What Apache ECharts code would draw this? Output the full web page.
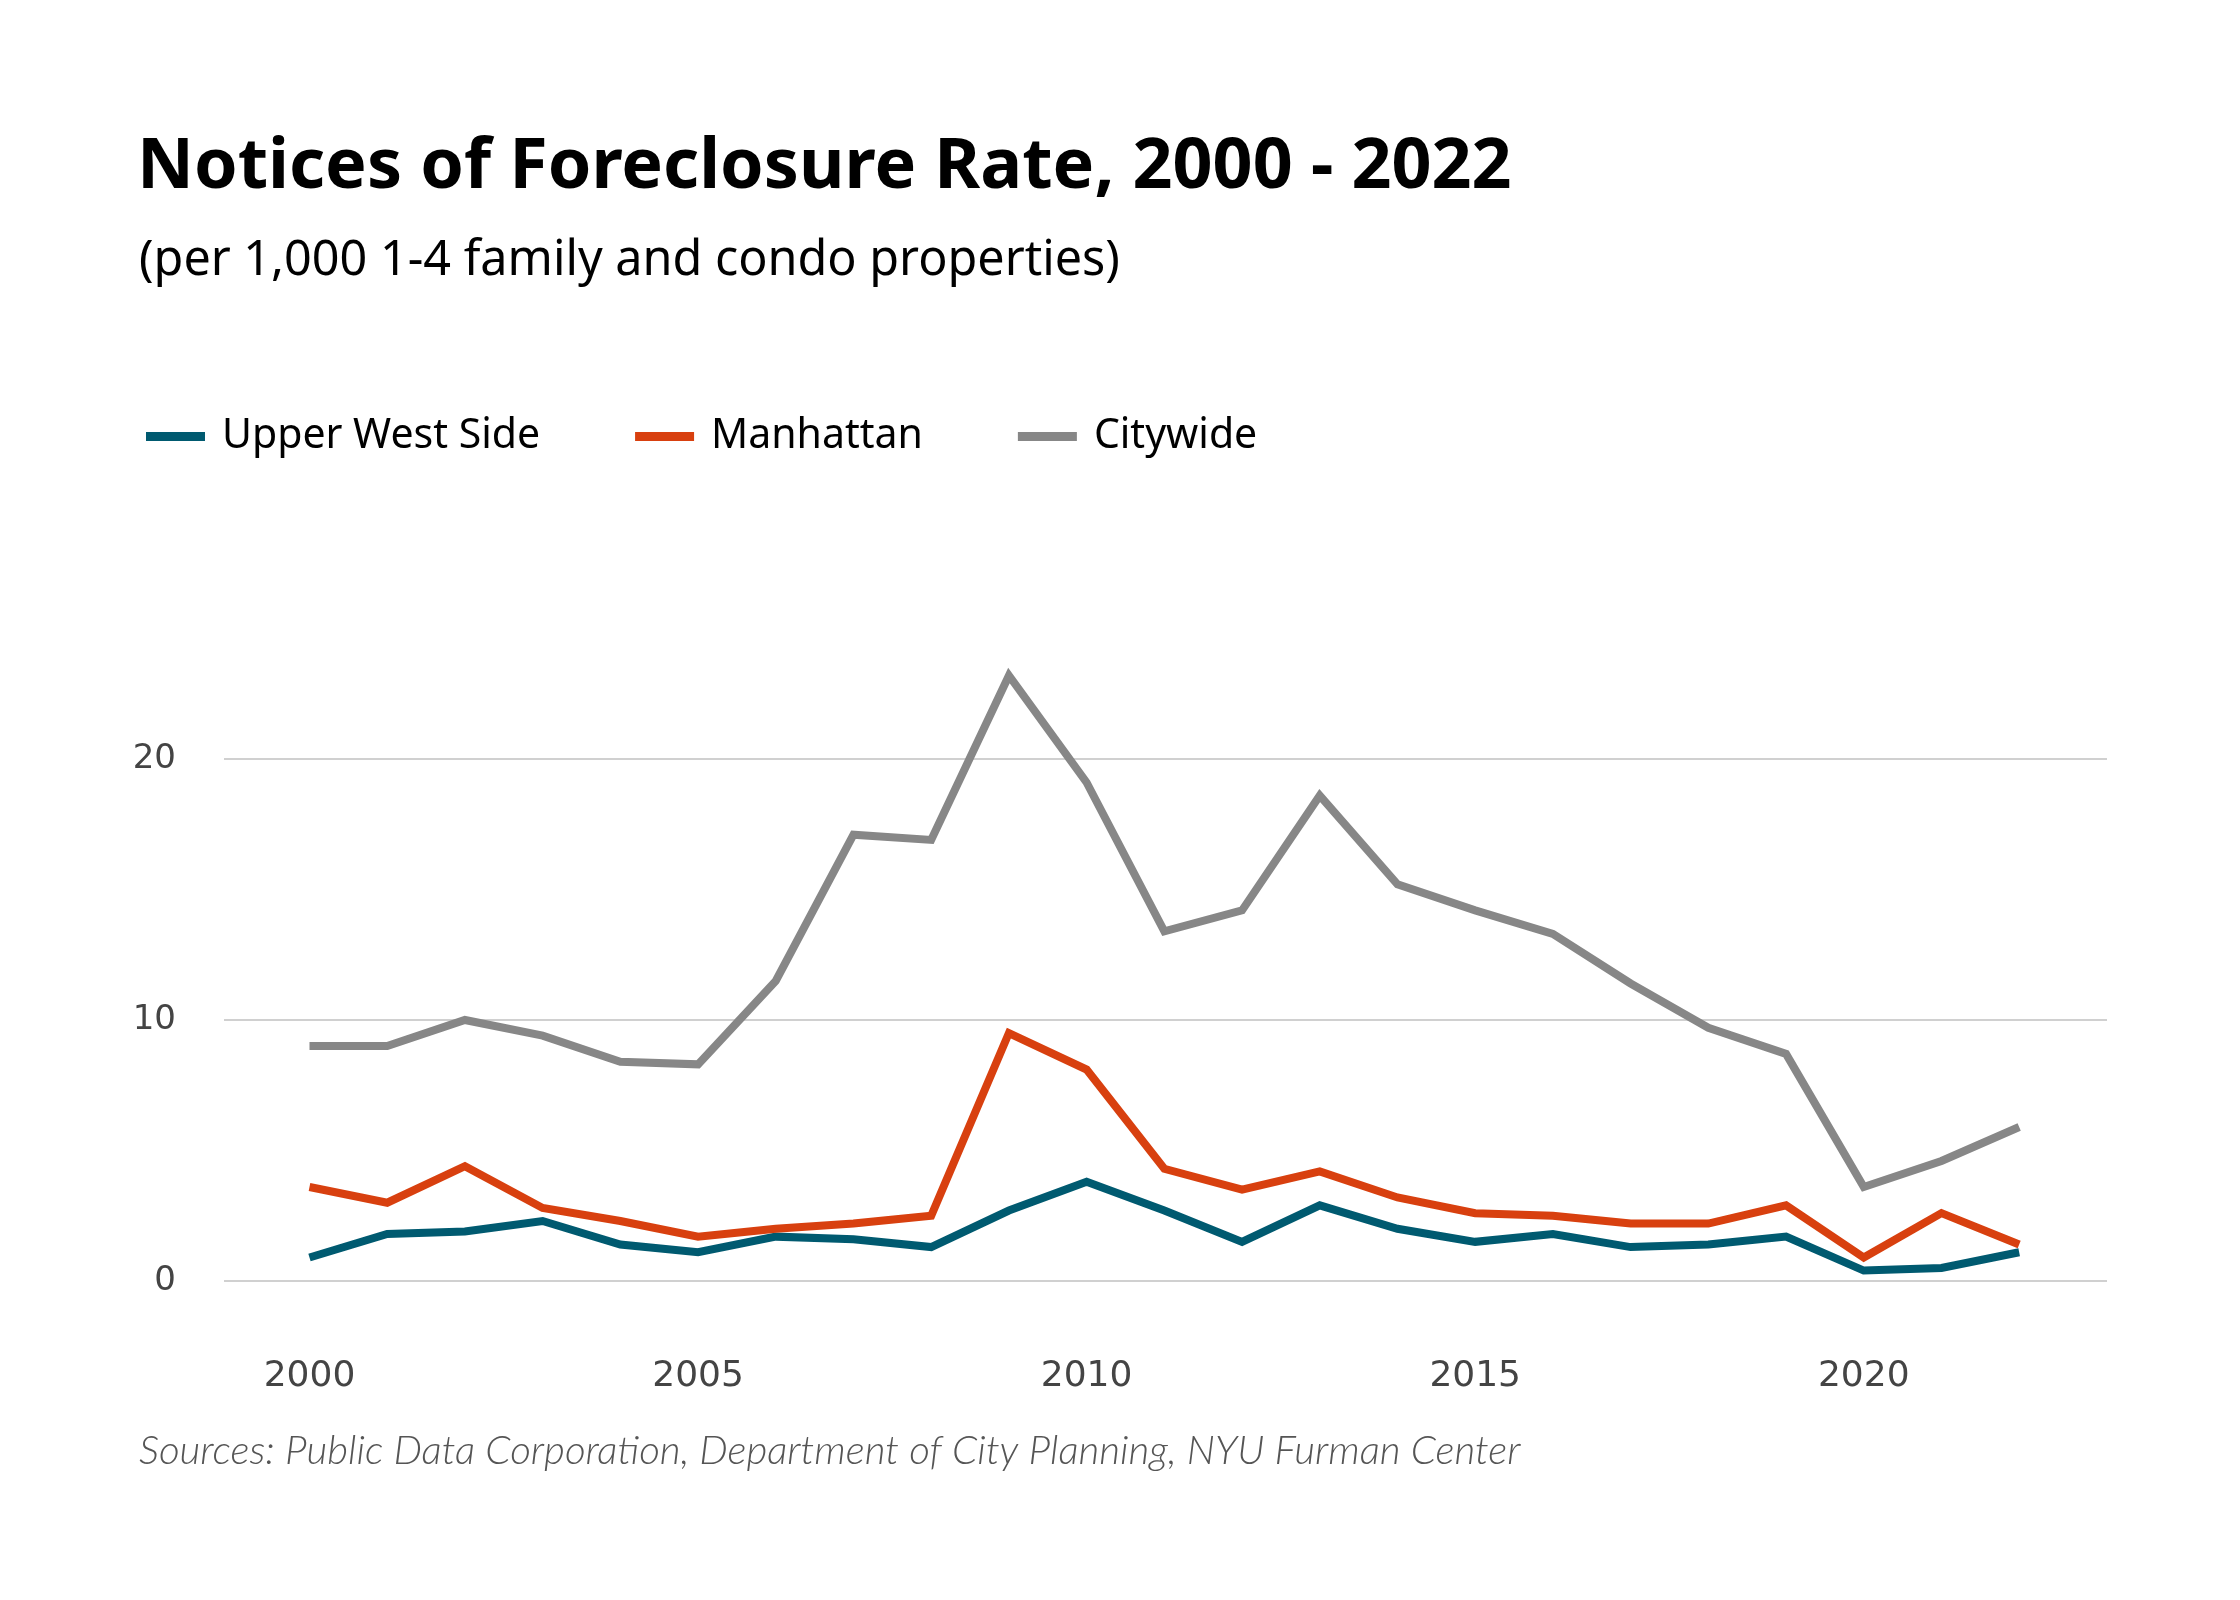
<!DOCTYPE html>
<html>
<head>
<meta charset="utf-8">
<title>Notices of Foreclosure Rate</title>
<script src="https://cdn.jsdelivr.net/npm/echarts@6/dist/echarts.min.js"></script>
<style>
    html, body { margin: 0; padding: 0; background: #fff; }
    #chart { width: 2240px; height: 1600px; }
</style>
</head>
<body>
<div id="chart"></div>
<script>
// chart data
var years = [2000, 2001, 2002, 2003, 2004, 2005, 2006, 2007, 2008, 2009, 2010, 2011,
    2012, 2013, 2014, 2015, 2016, 2017, 2018, 2019, 2020, 2021, 2022];
var upperWestSide = [0.9, 1.8, 1.9, 2.3, 1.4, 1.1, 1.7, 1.6, 1.3, 2.7, 3.8, 2.7,
    1.5, 2.9, 2.0, 1.5, 1.8, 1.3, 1.4, 1.7, 0.4, 0.5, 1.1];
var manhattan = [3.6, 3.0, 4.4, 2.8, 2.3, 1.7, 2.0, 2.2, 2.5, 9.5, 8.1, 4.3,
    3.5, 4.2, 3.2, 2.6, 2.5, 2.2, 2.2, 2.9, 0.9, 2.6, 1.4];
var citywide = [9.0, 9.0, 10.0, 9.4, 8.4, 8.3, 11.5, 17.1, 16.9, 23.2, 19.1, 13.4,
    14.2, 18.6, 15.2, 14.2, 13.3, 11.4, 9.7, 8.7, 3.6, 4.6, 5.9];
var yearLabels = [2000, 2005, 2010, 2015, 2020];
var yTicks = [0, 10, 20];

var seriesNames = ["Upper West Side", "Manhattan", "Citywide"];
var seriesColors = ["#005a70", "#d8400f", "#878787"];

var fontMain = "'Noto Sans', Roboto, sans-serif";

function pairs(values) {
    return years.map(function (y, i) { return [y, values[i]]; });
}

function lineSeries(name, color, values) {
    return {
        name: name,
        type: 'line',
        data: pairs(values),
        symbol: 'none',
        clip: false,
        lineStyle: { color: color, width: 8, join: 'miter' },
        itemStyle: { color: color }
    };
}

var myChart = echarts.init(document.getElementById("chart"));
var option = {
    backgroundColor: '#ffffff',
    animation: false,
    title: [
        {
            text: "Notices of Foreclosure Rate, 2000 - 2022",
            left: 132,
            top: 128,
            textStyle: { fontFamily: fontMain, fontWeight: 'bold', fontSize: 70, color: '#000' }
        },
        {
            text: "(per 1,000 1-4 family and condo properties)",
            left: 134,
            top: 232,
            textStyle: { fontFamily: fontMain, fontWeight: 'normal', fontSize: 48.5, color: '#000' }
        },
        {
            text: "Sources: Public Data Corporation, Department of City Planning, NYU Furman Center",
            left: 134,
            top: 1426,
            textStyle: { fontFamily: "Lato, 'Open Sans', sans-serif", fontStyle: 'italic', fontWeight: 300, fontSize: 40.3, color: '#555' }
        }
    ],
    legend: {
        data: seriesNames,
        left: 141,
        top: 411,
        icon: 'rect',
        itemWidth: 59,
        itemHeight: 9,
        itemGap: 95,
        textStyle: { fontFamily: fontMain, fontSize: 41, color: '#000', padding: [0, 0, 0, 12] }
    },
    grid: {
        left: 224,
        right: 133,
        top: 759,
        bottom: 319
    },
    xAxis: {
        type: 'value',
        min: 1998.9,
        max: 2023.13,
        axisLine: { show: false },
        axisTick: { show: false },
        splitLine: { show: false },
        axisLabel: {
            customValues: yearLabels,
            formatter: function (v) { return String(v); },
            margin: 78,
            fontFamily: "'DejaVu Sans', sans-serif",
            fontSize: 36,
            color: '#444'
        }
    },
    yAxis: {
        type: 'value',
        min: yTicks[0],
        max: yTicks[yTicks.length - 1],
        interval: 10,
        axisLine: { show: false },
        axisTick: { show: false },
        splitLine: { lineStyle: { color: '#d0d0d0', width: 2 } },
        axisLabel: {
            margin: 48,
            fontFamily: "'DejaVu Sans', sans-serif",
            fontSize: 34,
            color: '#444'
        }
    },
    series: [
        lineSeries(seriesNames[0], seriesColors[0], upperWestSide),
        lineSeries(seriesNames[1], seriesColors[1], manhattan),
        lineSeries(seriesNames[2], seriesColors[2], citywide)
    ]
};

myChart.setOption(option);
</script>
</body>
</html>
